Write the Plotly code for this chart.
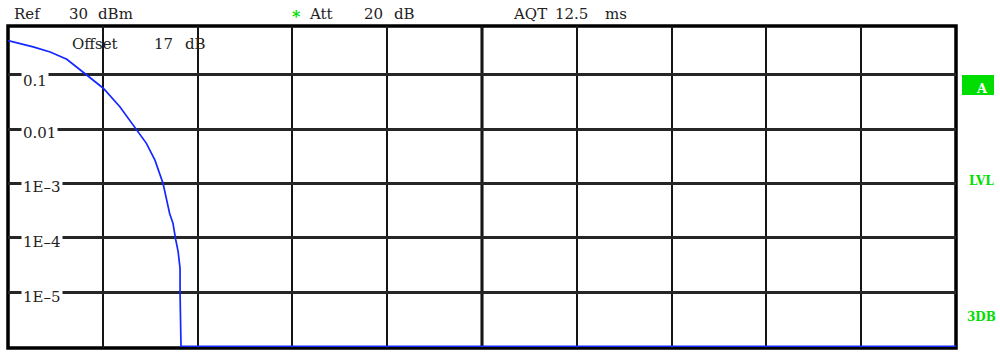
import plotly.graph_objects as go
import math

# ---- data ----
ccdf_db = [0.00, 0.53, 0.89, 1.24, 1.66, 2.01, 2.36, 2.71, 2.92, 3.10, 3.27,
           3.41, 3.48, 3.54, 3.59, 3.63, 3.63, 3.65, 20.0]
ccdf_prob = [0.43, 0.33, 0.265, 0.195, 0.10, 0.057, 0.026, 0.0101, 0.0055,
             0.0027, 0.00101, 2.8e-4, 1.85e-4, 9.1e-5, 5.5e-5, 2.7e-5, 9.6e-6,
             1e-6, 1e-6]
ytick_vals = [1e-1, 1e-2, 1e-3, 1e-4, 1e-5]
ytick_text = ["0.1", "0.01", "1E\u20133", "1E\u20134", "1E\u20135"]
ytick_shift = [-6.5, -3.5, -3.5, -4, -4.5]

W, H = 1000, 359
L, R, T, B = 8, 956, 26, 348
FONT = "DejaVu Serif"
GREEN = "#00dd00"


def px(x):
    return (x - L) / (R - L)


def py(y):
    return (B - y) / (B - T)


fig = go.Figure()
fig.add_trace(go.Scatter(x=ccdf_db, y=ccdf_prob, mode="lines",
                         line=dict(color="#1428ff", width=1.7),
                         hoverinfo="skip", showlegend=False))

fig.update_layout(
    width=W, height=H,
    margin=dict(l=L, r=W - R, t=T, b=H - B, pad=0),
    paper_bgcolor="white", plot_bgcolor="white",
    showlegend=False,
    xaxis=dict(range=[0, 20], dtick=2, tick0=0, showgrid=True,
               gridcolor="#151515", gridwidth=1.6, zeroline=False,
               showticklabels=False, ticks="", showline=False, fixedrange=True),
    yaxis=dict(type="log", range=[-6.032, -0.097], tickvals=ytick_vals,
               showgrid=True, gridcolor="#262626", gridwidth=3,
               zeroline=False, showticklabels=False, ticks="",
               showline=False, fixedrange=True),
)

# centre vertical line (thicker)
fig.add_shape(type="line", xref="x", yref="paper", x0=10, x1=10, y0=0, y1=1,
              line=dict(color="black", width=3), layer="below")
# frame
fig.add_shape(type="rect", xref="paper", yref="paper", x0=0, x1=1, y0=0, y1=1,
              line=dict(color="black", width=3.5), layer="below")

# y tick labels inside plot with white background
for v, t, s in zip(ytick_vals, ytick_text, ytick_shift):
    fig.add_annotation(x=px(21), xref="paper", y=math.log10(v), yref="y",
                       text=t, showarrow=False, xanchor="left",
                       yanchor="middle", yshift=s, bgcolor="white",
                       borderpad=1, font=dict(family=FONT, size=15,
                                              color="#222"))

# header / info texts: (text, centre x px, centre y px, colour)
texts = [
    ("Ref", 27.5, 14.5, "#222"), ("30", 78, 14.5, "#222"),
    ("dBm", 115, 14.5, "#222"),
    ("Att", 321, 14.5, "#222"), ("20", 373, 14.5, "#222"),
    ("dB", 404.5, 14.5, "#222"),
    ("AQT", 530, 14.5, "#222"), ("12.5", 571.5, 14.5, "#222"),
    ("ms", 615.5, 14.5, "#222"),
    ("Offset", 94.5, 44, "#222"), ("17", 163, 44, "#222"),
    ("dB", 195, 44, "#222"),
]
for t, x, y, c in texts:
    fig.add_annotation(x=px(x), y=py(y), xref="paper", yref="paper", text=t,
                       showarrow=False, xanchor="center", yanchor="middle",
                       font=dict(family=FONT, size=15, color=c))

fig.add_annotation(x=px(296), y=py(16), xref="paper", yref="paper", text="<b>*</b>",
                   showarrow=False, xanchor="center", yanchor="middle",
                   font=dict(family=FONT, size=16, color=GREEN))

# right side indicators
fig.add_shape(type="rect", xref="paper", yref="paper", x0=px(962), x1=px(994),
              y0=py(95), y1=py(75), fillcolor=GREEN, line=dict(width=0))
fig.add_annotation(x=px(982), y=py(88), xref="paper", yref="paper", text="<b>A</b>",
                   showarrow=False, xanchor="center", yanchor="middle",
                   font=dict(family=FONT, size=13, color="white"))
for t, y in [("LVL", 181), ("3DB", 317)]:
    fig.add_annotation(x=px(981), y=py(y), xref="paper", yref="paper",
                       text="<b>" + t + "</b>", showarrow=False,
                       xanchor="center", yanchor="middle",
                       font=dict(family=FONT, size=12, color=GREEN))

fig.write_html(
    "out.html",
    config={"displayModeBar": False},
    post_script="document.body.style.margin='0';document.body.style.overflow='hidden';",
)
